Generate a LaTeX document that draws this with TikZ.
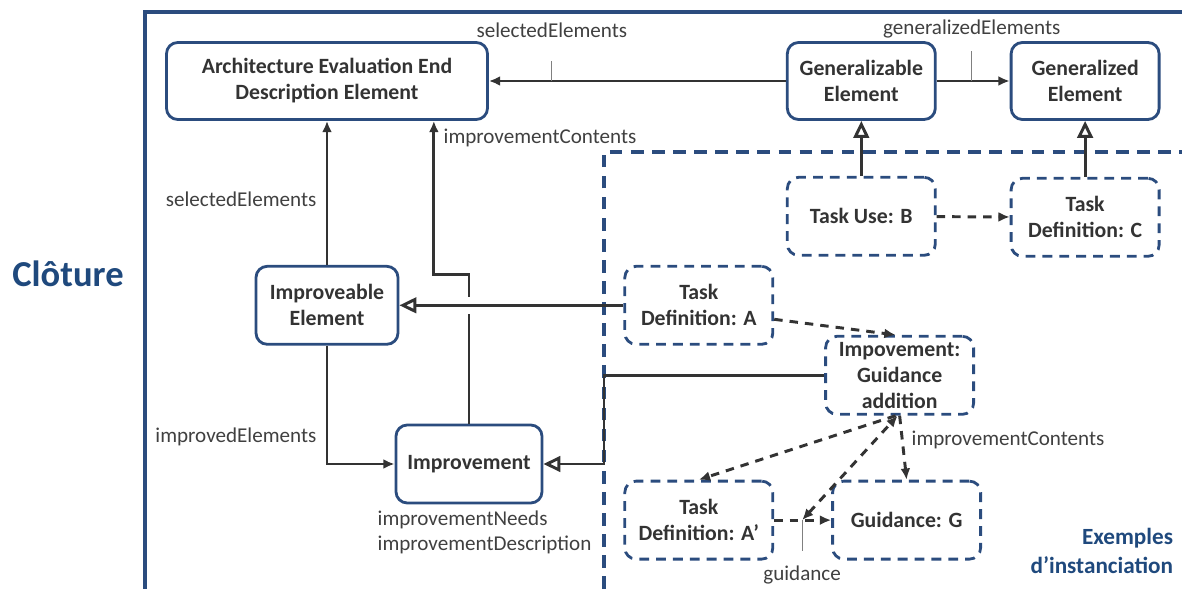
\documentclass[tikz,border=0pt]{standalone}
\usepackage{fontspec}
\setmainfont{Carlito}
\usetikzlibrary{arrows.meta,positioning,calc}
\definecolor{boxblue}{HTML}{2B4C7E}
\definecolor{titleblue}{HTML}{1F497D}
\definecolor{ink}{HTML}{333333}
\definecolor{lblgray}{HTML}{404040}

\begin{document}
\begin{tikzpicture}[
  box/.style={draw=boxblue, line width=2pt, rounded corners=8pt, align=center, text=ink, font=\fontsize{15.5}{18.5}\selectfont\bfseries, minimum width=3.7cm, minimum height=1.95cm, inner sep=2pt},
  dbox/.style={box, dash pattern=on 7pt off 5pt},
  lbl/.style={font=\fontsize{15}{18}\selectfont, text=lblgray, inner sep=1pt},
  assoc/.style={-{Latex[length=8pt,width=7pt]}, draw=ink, line width=2.1pt},
  gen/.style={-{Triangle[open,length=12pt,width=11pt]}, draw=ink, line width=2.1pt},
  dep/.style={assoc, dash pattern=on 6pt off 5pt},
  depboth/.style={dep, {Latex[length=8pt,width=7pt]}-{Latex[length=8pt,width=7pt]}},
  tick/.style={draw=gray, line width=0.7pt},
  frame/.style={draw=boxblue, line width=2.4pt},
  exframe/.style={draw=boxblue, line width=2.4pt, dash pattern=on 9pt off 6pt}
]
\useasboundingbox (0,0) rectangle (29.55,-14.725);

% metamodel
\node[box, minimum width=8.025cm, minimum height=1.925cm] (aeede) at (8.175,-2.025) {Architecture Evaluation End\\Description Element};
\node[box, minimum height=1.925cm, right=7.425cm of aeede] (genable) {Generalizable\\Element};
\node[box, minimum height=1.925cm, right=1.825cm of genable] (gened) {Generalized\\Element};
\node[box, minimum width=3.55cm, below=3.6cm of aeede] (improveable) {Improveable\\Element};
\node[box, minimum width=3.65cm] (improvement) at (11.725,-11.6) {Improvement};

% instances
\node[dbox, below=1.375cm of genable] (taskB) {Task Use: B};
\node[dbox, below=1.4cm of gened] (taskC) {Task\\Definition: C};
\node[dbox, right=5.6cm of improveable] (taskA) {Task\\Definition: A};
\node[dbox, below=3.35cm of taskA] (taskA2) {Task\\Definition: A’};
\node[dbox, right=1.425cm of taskA2] (guidG) {Guidance: G};
\node[dbox, above=1.6cm of guidG, xshift=-0.175cm] (impGA) {Impovement:\\Guidance\\addition};

% frames
\coordinate (exCorner) at (15.1,-3.8);
\draw[frame] (3.625,-14.725) |- (29.55,-0.3);
\draw[exframe] (exCorner |- 0,-14.725) |- (29.55,-3.8);
\node[font=\fontsize{26}{30}\selectfont\bfseries, text=titleblue] (cloture) at (1.7,-6.85) {Clôture};
\node[font=\fontsize{16.5}{20}\selectfont\bfseries, text=titleblue, align=right, anchor=east] (exemples) at (29.45,-13.775) {Exemples\\d’instanciation};

% associations
\draw[assoc] (genable) -- (aeede);
\coordinate (selTick) at ($(aeede.east)!0.212!(genable.west)$);
\draw[tick] (selTick) -- ++(0,0.5);
\node[lbl] (selTop) at ([yshift=1.275cm]selTick) {selectedElements};

\draw[assoc] (genable) -- (gened);
\coordinate (genTick) at ($(genable.east)!0.48!(gened.west)$);
\draw[tick] (genTick) -- ++(0,0.75);
\node[lbl] (genLbl) at ([yshift=1.3cm]genTick) {generalizedElements};

\draw[assoc] (improveable) -- (aeede);
\node[lbl, anchor=east] (selLeft) at (7.95,-4.975) {selectedElements};
\draw[assoc] (improveable.south) |- (improvement.west);
\node[lbl, anchor=east] (impdLbl) at (7.95,-10.925) {improvedElements};

\coordinate (aeedeIn) at ($(aeede.south west)!0.83!(aeede.south east)$);
\draw[assoc] (improvement.north) |- ([yshift=-3.85cm]aeedeIn) -- (aeedeIn);
\node[lbl, anchor=west] (contLbl) at (11.05,-3.45) {improvementContents};
\node[lbl, align=left, anchor=north west] (needLbl) at (9.4,-12.72) {improvementNeeds\\improvementDescription};

% generalisations
\fill[white] ($(improvement.north |- improveable.east)+(-0.1,-0.21)$) rectangle +(0.2,0.42);
\draw[gen] (taskA) -- (improveable);
\draw[gen] (impGA.west) -- (impGA.west -| exCorner) |- (improvement.east);
\draw[gen] (taskB) -- (genable);
\draw[gen] (taskC) -- (gened);

% instance links
\draw[dep] (taskB) -- (taskC);
\draw[dep] ([yshift=-0.35cm]taskA.east) -- ([xshift=-0.1cm]impGA.north);
\draw[dep] ([xshift=-0.1cm]impGA.south) -- (taskA2.north);
\draw[dep] (impGA.south) -- (guidG.north);
\node[lbl, anchor=west] (cont2Lbl) at (22.75,-11.0) {improvementContents};
\draw[dep] (taskA2) -- (guidG);
\coordinate (guidTick) at ($(taskA2.east)!0.49!(guidG.west)$);
\draw[tick] (guidTick) -- ++(0,-0.775);
\node[lbl] (guidLbl) at ([yshift=-1.375cm]guidTick) {guidance};
\draw[depboth] (guidTick) -- ([xshift=-0.05cm]impGA.south);
\end{tikzpicture}
\end{document}
